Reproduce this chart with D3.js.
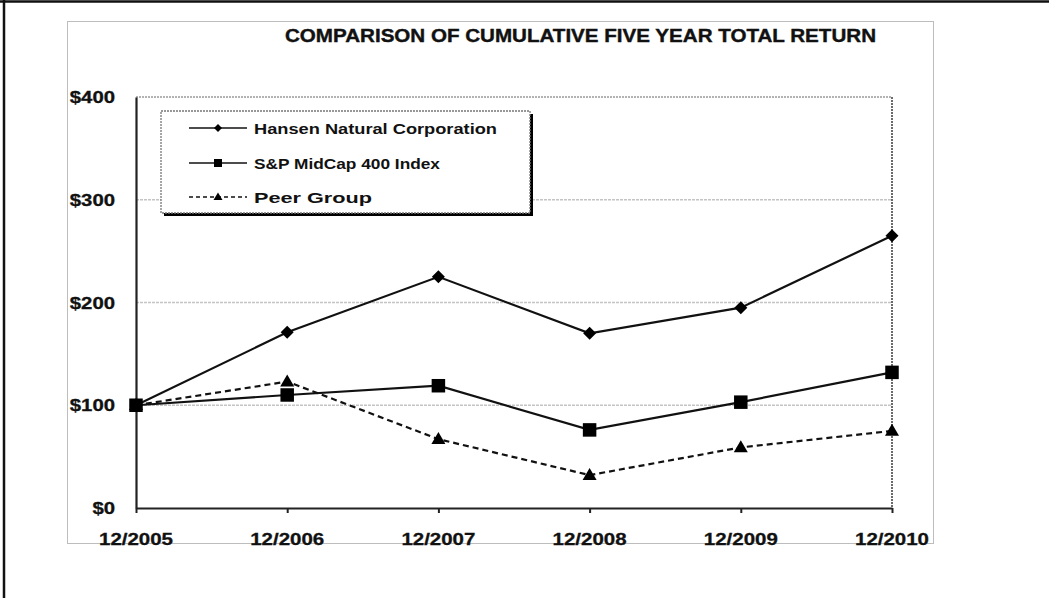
<!DOCTYPE html>
<html>
<head>
<meta charset="utf-8">
<script src="https://cdn.jsdelivr.net/npm/d3@7"></script>
<style>
  html, body { margin: 0; padding: 0; background: #fff; }
  svg { display: block; }
  text { font-family: "Liberation Sans", Arial, sans-serif; fill: #111; }
</style>
</head>
<body>
<svg id="chart" width="1049" height="598"></svg>
<script>
// ---- data ----
const categories = ["12/2005", "12/2006", "12/2007", "12/2008", "12/2009", "12/2010"];
const hansen = [100, 171, 225, 170, 195, 265];
const spMidCap = [100, 110, 119, 76, 103, 132];
const peerGroup = [100, 123, 67, 32, 59, 75];
const yTicks = [0, 100, 200, 300, 400];
const yTickLabels = ["$0", "$100", "$200", "$300", "$400"];
const seriesNames = ["Hansen Natural Corporation", "S&P MidCap 400 Index", "Peer Group"];
const chartTitle = "COMPARISON OF CUMULATIVE FIVE YEAR TOTAL RETURN";

const series = [
  { name: seriesNames[0], values: hansen, marker: "diamond", dash: null },
  { name: seriesNames[1], values: spMidCap, marker: "square", dash: null },
  { name: seriesNames[2], values: peerGroup, marker: "triangle", dash: "6,4" }
];

const svg = d3.select("#chart");

// outer black frame (top & left)
svg.append("line").attr("x1", 0).attr("x2", 1049).attr("y1", 1.5).attr("y2", 1.5)
  .attr("stroke", "#111").attr("stroke-width", 2.5);
svg.append("line").attr("x1", 4).attr("x2", 4).attr("y1", 0).attr("y2", 598)
  .attr("stroke", "#111").attr("stroke-width", 2.5);

// inner chart frame (light gray)
svg.append("rect").attr("x", 67.5).attr("y", 21.5).attr("width", 866).attr("height", 522)
  .attr("fill", "none").attr("stroke", "#bdbdbd").attr("stroke-width", 1);

// title
svg.append("text")
  .attr("x", 285).attr("y", 42)
  .attr("textLength", 591).attr("lengthAdjust", "spacingAndGlyphs")
  .style("font-family", "'Liberation Sans Narrow', 'Arial Narrow', 'Liberation Sans', Arial, sans-serif")
  .style("font-weight", "bold").style("font-size", "18.5px")
  .style("stroke", "#111").style("stroke-width", 0.4)
  .text(chartTitle);

// scales
const x = d3.scalePoint().domain(categories).range([136, 892]);
const y = d3.scaleLinear().domain([0, 400]).range([508, 97]);

// gridlines
svg.append("g").selectAll("line").data(yTicks.filter(d => d > 0 && d < 400)).join("line")
  .attr("x1", 136).attr("x2", 892)
  .attr("y1", d => y(d)).attr("y2", d => y(d))
  .attr("stroke", "#c4c4c4").attr("stroke-width", 1.6).attr("stroke-dasharray", "3,1");

// plot area top and right border
svg.append("line").attr("x1", 136).attr("x2", 892).attr("y1", y(400)).attr("y2", y(400))
  .attr("stroke", "#9a9a9a").attr("stroke-width", 1.6).attr("stroke-dasharray", "2,1");
svg.append("line").attr("x1", 892).attr("x2", 892).attr("y1", y(400)).attr("y2", y(0))
  .attr("stroke", "#6a6a6a").attr("stroke-width", 2).attr("stroke-dasharray", "2,1");

// axes
const xAxis = d3.axisBottom(x).tickSize(5).tickSizeOuter(0).tickFormat(() => "");
svg.append("g").attr("transform", `translate(0,${y(0)})`).call(xAxis)
  .call(g => g.select(".domain").attr("stroke", "#222").attr("stroke-width", 2.2))
  .call(g => g.selectAll(".tick line").attr("stroke", "#222").attr("stroke-width", 2));

svg.append("g").attr("transform", `translate(${x(categories[0])},0)`)
  .call(d3.axisLeft(y).tickValues(yTicks).tickSize(0).tickFormat(() => ""))
  .call(g => g.select(".domain").attr("stroke", "#222").attr("stroke-width", 2.2));

// x labels
svg.append("g").selectAll("text").data(categories).join("text")
  .attr("x", d => x(d) - 37).attr("y", 545)
  .attr("textLength", 74).attr("lengthAdjust", "spacingAndGlyphs")
  .style("font-weight", "bold").style("font-size", "17px")
  .style("stroke", "#111").style("stroke-width", 0.3)
  .text(d => d);

// y labels
svg.append("g").selectAll("text").data(yTicks).join("text")
  .each(function(d, i) {
    const lbl = yTickLabels[i];
    const w = lbl.length * 11.3;
    d3.select(this).attr("x", 115 - w).attr("y", y(d) + 6)
      .attr("textLength", w).attr("lengthAdjust", "spacingAndGlyphs");
  })
  .style("font-weight", "bold").style("font-size", "16.5px")
  .style("stroke", "#111").style("stroke-width", 0.3)
  .text((d, i) => yTickLabels[i]);

// marker drawing
function drawMarker(g, type, cx, cy) {
  if (type === "diamond") {
    const r = 6.5;
    g.append("path").attr("d", `M${cx},${cy - r}L${cx + r},${cy}L${cx},${cy + r}L${cx - r},${cy}Z`)
      .attr("fill", "#000");
  } else if (type === "square") {
    const s = 13.5;
    g.append("rect").attr("x", cx - s / 2).attr("y", cy - s / 2).attr("width", s).attr("height", s)
      .attr("fill", "#000");
  } else if (type === "triangle") {
    const h = 12, w = 14;
    g.append("path").attr("d", `M${cx},${cy - h * 0.6}L${cx + w / 2},${cy + h * 0.4}L${cx - w / 2},${cy + h * 0.4}Z`)
      .attr("fill", "#000");
  }
}

const line = d3.line().x((d, i) => x(categories[i])).y(d => y(d));

const plot = svg.append("g");
series.slice().reverse().forEach(s => {
  plot.append("path").datum(s.values)
    .attr("d", line)
    .attr("fill", "none").attr("stroke", "#111").attr("stroke-width", 2.2)
    .attr("stroke-dasharray", s.dash);
});
series.slice().reverse().forEach(s => {
  const g = plot.append("g");
  s.values.forEach((v, i) => drawMarker(g, s.marker, x(categories[i]), y(v)));
});

// legend
const lg = svg.append("g");
lg.append("rect").attr("x", 164).attr("y", 114).attr("width", 369).attr("height", 102).attr("fill", "#000");
lg.append("rect").attr("x", 161).attr("y", 111).attr("width", 369).attr("height", 102)
  .attr("fill", "#fff").attr("stroke", "#777").attr("stroke-width", 1.3).attr("stroke-dasharray", "2,1");
const rowY = [128, 163, 197];
const textW = [243, 186, 118];
series.forEach((s, i) => {
  const yy = rowY[i];
  lg.append("line").attr("x1", 189).attr("x2", 247).attr("y1", yy).attr("y2", yy)
    .attr("stroke", "#111").attr("stroke-width", 1.5)
    .attr("stroke-dasharray", s.dash ? "4,3" : null);
  const m = lg.append("g");
  if (s.marker === "diamond") {
    m.append("path").attr("d", `M218,${yy - 4}L222,${yy}L218,${yy + 4}L214,${yy}Z`).attr("fill", "#000");
  } else if (s.marker === "square") {
    m.append("rect").attr("x", 214).attr("y", yy - 4).attr("width", 8).attr("height", 8).attr("fill", "#000");
  } else {
    m.append("path").attr("d", `M218,${yy - 4.5}L222.5,${yy + 3}L213.5,${yy + 3}Z`).attr("fill", "#000");
  }
  lg.append("text").attr("x", 254).attr("y", yy + 5.5)
    .attr("textLength", textW[i]).attr("lengthAdjust", "spacingAndGlyphs")
    .style("font-weight", "bold").style("font-size", "15px")
    .text(s.name);
});
</script>
</body>
</html>
